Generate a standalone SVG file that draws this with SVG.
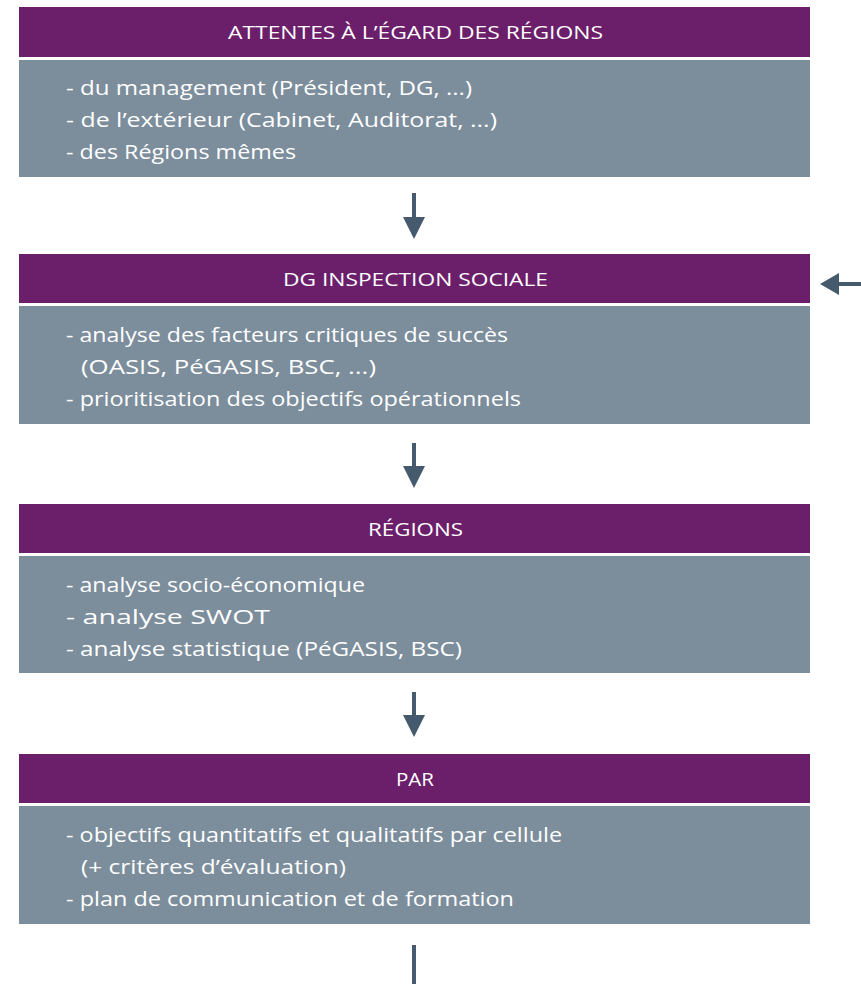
<svg xmlns="http://www.w3.org/2000/svg" width="861" height="984" viewBox="0 0 861 984">
<defs>
<style>
.hd{fill:#6B1F6B}
.bd{fill:#7C8D9C}
.ht{font-family:"Open Sans","Liberation Sans",sans-serif;font-size:18px;fill:#fff;text-anchor:middle}
.bt{font-family:"Open Sans","Liberation Sans",sans-serif;font-size:20px;fill:#fff}
.cn{stroke:#455A6C;stroke-width:4;fill:none}
.hh{fill:#455A6C}
</style>
</defs>
<rect width="861" height="984" fill="#fff"/>
<g id="box1">
<rect class="hd" x="19" y="7" width="791" height="50"/>
<text class="ht" x="415.5" y="39" textLength="375" lengthAdjust="spacingAndGlyphs">ATTENTES À L’ÉGARD DES RÉGIONS</text>
<rect class="bd" x="19" y="60" width="791" height="117"/>
<text class="bt" x="66" y="95" textLength="406" lengthAdjust="spacingAndGlyphs">- du management (Président, DG, ...)</text>
<text class="bt" x="66" y="127" textLength="431" lengthAdjust="spacingAndGlyphs">- de l’extérieur (Cabinet, Auditorat, ...)</text>
<text class="bt" x="66" y="159" textLength="230" lengthAdjust="spacingAndGlyphs">- des Régions mêmes</text>
</g>
<g id="box2">
<rect class="hd" x="19" y="254" width="791" height="49"/>
<text class="ht" x="415.5" y="286" textLength="265" lengthAdjust="spacingAndGlyphs">DG INSPECTION SOCIALE</text>
<rect class="bd" x="19" y="306" width="791" height="118"/>
<text class="bt" x="66" y="342" textLength="442" lengthAdjust="spacingAndGlyphs">- analyse des facteurs critiques de succès</text>
<text class="bt" x="81" y="374" textLength="295" lengthAdjust="spacingAndGlyphs">(OASIS, PéGASIS, BSC, ...)</text>
<text class="bt" x="66" y="406" textLength="455" lengthAdjust="spacingAndGlyphs">- prioritisation des objectifs opérationnels</text>
</g>
<g id="box3">
<rect class="hd" x="19" y="504" width="791" height="49"/>
<text class="ht" x="415.5" y="536" textLength="95" lengthAdjust="spacingAndGlyphs">RÉGIONS</text>
<rect class="bd" x="19" y="556" width="791" height="117"/>
<text class="bt" x="66" y="592" textLength="299" lengthAdjust="spacingAndGlyphs">- analyse socio-économique</text>
<text class="bt" x="66" y="624" textLength="204" lengthAdjust="spacingAndGlyphs">- analyse SWOT</text>
<text class="bt" x="66" y="656" textLength="396" lengthAdjust="spacingAndGlyphs">- analyse statistique (PéGASIS, BSC)</text>
</g>
<g id="box4">
<rect class="hd" x="19" y="754" width="791" height="49"/>
<text class="ht" x="415" y="786" textLength="38" lengthAdjust="spacingAndGlyphs">PAR</text>
<rect class="bd" x="19" y="806" width="791" height="118"/>
<text class="bt" x="66" y="842" textLength="496" lengthAdjust="spacingAndGlyphs">- objectifs quantitatifs et qualitatifs par cellule</text>
<text class="bt" x="81" y="874" textLength="265" lengthAdjust="spacingAndGlyphs">(+ critères d’évaluation)</text>
<text class="bt" x="66" y="906" textLength="448" lengthAdjust="spacingAndGlyphs">- plan de communication et de formation</text>
</g>
<g id="connectors">
<line class="cn" x1="414" y1="193" x2="414" y2="218"/>
<path class="hh" d="M403,217 L425,217 L414,239 Z"/>
<line class="cn" x1="414" y1="443" x2="414" y2="467"/>
<path class="hh" d="M403,466 L425,466 L414,488 Z"/>
<line class="cn" x1="414" y1="692" x2="414" y2="716"/>
<path class="hh" d="M403,715 L425,715 L414,737 Z"/>
<line class="cn" x1="414" y1="945" x2="414" y2="984"/>
<line class="cn" x1="861" y1="284" x2="838" y2="284"/>
<path class="hh" d="M839,273 L839,295 L820,284 Z"/>
</g>
</svg>
